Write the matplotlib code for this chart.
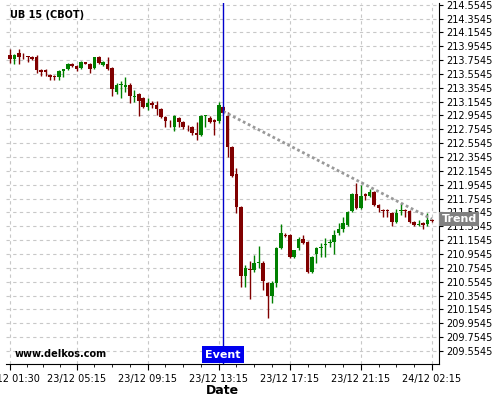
import matplotlib
matplotlib.use("Agg")
import matplotlib.pyplot as plt
import matplotlib.transforms as mtransforms
import numpy as np

opens = [213.828, 213.770, 213.857, 213.814, 213.807, 213.799, 213.799, 213.612, 213.612, 213.539,
         213.525, 213.511, 213.597, 213.626, 213.698, 213.669, 213.640, 213.720, 213.698, 213.640,
         213.799, 213.684, 213.698, 213.640, 213.294, 213.395, 213.366, 213.395, 213.222, 213.265,
         213.207, 213.077, 213.135, 213.106, 213.048, 212.933, 212.875, 212.789, 212.918, 212.861,
         212.803, 212.789, 212.702, 212.673, 212.947, 212.918, 212.890, 212.875, 213.077, 212.947,
         212.500, 212.110, 211.633, 210.637, 210.738, 210.724, 210.825, 210.825, 210.536, 210.348,
         210.536, 211.041, 211.229, 211.229, 210.911, 211.041, 211.171, 211.128, 210.695, 210.955,
         211.041, 211.085, 211.113, 211.128, 211.258, 211.316, 211.373, 211.576, 211.821, 211.619,
         211.821, 211.792, 211.850, 211.662, 211.590, 211.590, 211.547, 211.417, 211.576, 211.590,
         211.576, 211.417, 211.373, 211.402, 211.388, 211.446]
highs = [213.915, 213.843, 213.915, 213.857, 213.814, 213.814, 213.828, 213.626, 213.626, 213.554,
         213.539, 213.612, 213.626, 213.713, 213.713, 213.684, 213.742, 213.727, 213.713, 213.799,
         213.814, 213.742, 213.799, 213.655, 213.424, 213.453, 213.511, 213.424, 213.323, 213.279,
         213.222, 213.207, 213.164, 213.164, 213.063, 212.947, 212.890, 212.962, 212.933, 212.875,
         212.817, 212.803, 212.861, 212.962, 212.962, 212.947, 212.904, 213.150, 213.092, 213.005,
         212.514, 212.196, 211.648, 210.796, 210.854, 210.940, 211.070, 210.854, 210.550, 210.565,
         211.056, 211.388, 211.258, 211.243, 210.926, 211.200, 211.229, 211.142, 210.926, 211.056,
         211.113, 211.186, 211.171, 211.301, 211.402, 211.489, 211.576, 211.835, 211.980, 211.951,
         211.835, 211.893, 211.864, 211.677, 211.604, 211.604, 211.561, 211.604, 211.691, 211.604,
         211.590, 211.431, 211.446, 211.417, 211.547, 211.460]
lows = [213.713, 213.698, 213.698, 213.770, 213.727, 213.756, 213.568, 213.525, 213.525, 213.467,
        213.467, 213.467, 213.511, 213.612, 213.655, 213.597, 213.626, 213.698, 213.568, 213.626,
        213.698, 213.669, 213.612, 213.236, 213.265, 213.207, 213.294, 213.135, 213.150, 212.947,
        213.063, 213.034, 213.063, 212.962, 212.918, 212.789, 212.789, 212.731, 212.789, 212.760,
        212.731, 212.673, 212.601, 212.659, 212.789, 212.846, 212.673, 212.846, 212.976, 212.355,
        212.067, 211.547, 210.478, 210.478, 210.305, 210.695, 210.752, 210.435, 210.030, 210.247,
        210.478, 211.027, 211.200, 210.897, 210.897, 211.012, 211.099, 210.680, 210.680, 210.825,
        210.911, 210.911, 211.056, 210.955, 211.229, 211.272, 211.359, 211.561, 211.604, 211.604,
        211.734, 211.778, 211.648, 211.561, 211.489, 211.489, 211.359, 211.402, 211.518, 211.489,
        211.402, 211.359, 211.359, 211.316, 211.359, 211.417]
closes = [213.770, 213.828, 213.799, 213.807, 213.799, 213.770, 213.612, 213.583, 213.583, 213.511,
          213.511, 213.597, 213.626, 213.698, 213.669, 213.626, 213.727, 213.705, 213.626, 213.799,
          213.713, 213.727, 213.626, 213.337, 213.395, 213.409, 213.395, 213.236, 213.236, 213.164,
          213.077, 213.135, 213.106, 213.048, 212.933, 212.875, 212.868, 212.947, 212.861, 212.789,
          212.796, 212.702, 212.673, 212.947, 212.957, 212.861, 212.861, 213.106, 212.991, 212.500,
          212.081, 211.633, 210.637, 210.752, 210.724, 210.825, 210.839, 210.565, 210.348, 210.536,
          211.041, 211.258, 211.215, 210.911, 211.012, 211.171, 211.113, 210.695, 210.911, 211.041,
          211.056, 211.099, 211.121, 211.229, 211.316, 211.402, 211.561, 211.821, 211.619, 211.792,
          211.792, 211.850, 211.662, 211.619, 211.576, 211.576, 211.417, 211.547, 211.590, 211.576,
          211.417, 211.373, 211.388, 211.373, 211.446, 211.424]

x_tick_idx = [0, 15, 31, 47, 63, 79, 95]
x_tick_labels = ["23/12 01:30", "23/12 05:15", "23/12 09:15", "23/12 13:15",
                 "23/12 17:15", "23/12 21:15", "24/12 02:15"]
x_minor_idx = [3.75, 7.5, 11.25, 19, 23, 27, 35, 39, 43, 51, 55, 59, 67, 71, 75, 83, 87, 91]
y_ticks = [209.5545, 209.7545, 209.9545, 210.1545, 210.3545, 210.5545, 210.7545, 210.9545,
           211.1545, 211.3545, 211.5545, 211.7545, 211.9545, 212.1545, 212.3545, 212.5545,
           212.7545, 212.9545, 213.1545, 213.3545, 213.5545, 213.7545, 213.9545, 214.1545,
           214.3545, 214.5545]
event_idx = 48
trend_idx = [48, 95]
trend_vals = [213.014, 211.459]

GREEN = "#008000"
RED = "#800000"

fig = plt.figure(figsize=(5, 4), dpi=100)
ax = fig.add_axes([0.012, 0.09, 0.866, 0.9025])

o = np.array(opens); h = np.array(highs); l = np.array(lows); c = np.array(closes)
x = np.arange(len(o))
cols = [GREEN if cc > oo else RED for oo, cc in zip(o, c)]
ax.vlines(x, l, h, colors=cols, linewidth=1, zorder=2)
body_bottom = np.minimum(o, c)
body_h = np.maximum(np.abs(c - o), 0.012)
ax.bar(x, body_h, bottom=body_bottom, width=0.8, color=cols, linewidth=0, zorder=3)

ax.plot(trend_idx, trend_vals, color="#999999", linewidth=2, linestyle=(0, (1, 1)), zorder=4)
ax.axvline(event_idx, color="#0000cc", linewidth=1, zorder=5)

ax.set_xlim(-0.9, 96.6)
ax.set_ylim(209.366, 214.579)

ax.set_xticks(x_tick_idx)
ax.set_xticklabels(x_tick_labels, fontsize=7)
ax.set_xticks(x_minor_idx, minor=True)
ax.yaxis.tick_right()
ax.set_yticks(y_ticks)
ax.set_yticklabels([f"{v:.4f}" for v in y_ticks], fontsize=7)
ax.tick_params(axis="y", length=3, pad=2)
ax.tick_params(axis="x", which="major", length=4, pad=3)
ax.tick_params(axis="x", which="minor", length=2)

ax.grid(True, which="major", color="#c8c8c8", linestyle=(0, (3, 3)), linewidth=0.8)
ax.set_axisbelow(True)
for s in ["left", "top"]:
    ax.spines[s].set_visible(False)

tr_ev = mtransforms.blended_transform_factory(ax.transData, ax.transAxes)
ax.text(event_idx, 0.012, "Event", transform=tr_ev, ha="center", va="bottom", fontsize=8,
        fontweight="bold", color="white", zorder=6,
        bbox=dict(boxstyle="square,pad=0.3", facecolor="#0000ee", edgecolor="none"))

tr_tr = mtransforms.blended_transform_factory(ax.transAxes, ax.transData)
ax.text(1.006, trend_vals[-1], "Trend", transform=tr_tr, ha="left", va="center", fontsize=8,
        fontweight="bold", color="white", zorder=6, clip_on=False,
        bbox=dict(boxstyle="square,pad=0.2", facecolor="#808080", edgecolor="none"))

fig.text(10 / 500, 1 - 15.5 / 400, "UB 15 (CBOT)", fontsize=7, fontweight="bold", va="center")
fig.text(15 / 500, 1 - 354 / 400, "www.delkos.com", fontsize=7, fontweight="bold", va="center")
fig.text(222 / 500, 1 - 390 / 400, "Date", fontsize=9, fontweight="bold", ha="center", va="center")

fig.savefig("out.png", dpi=100)
